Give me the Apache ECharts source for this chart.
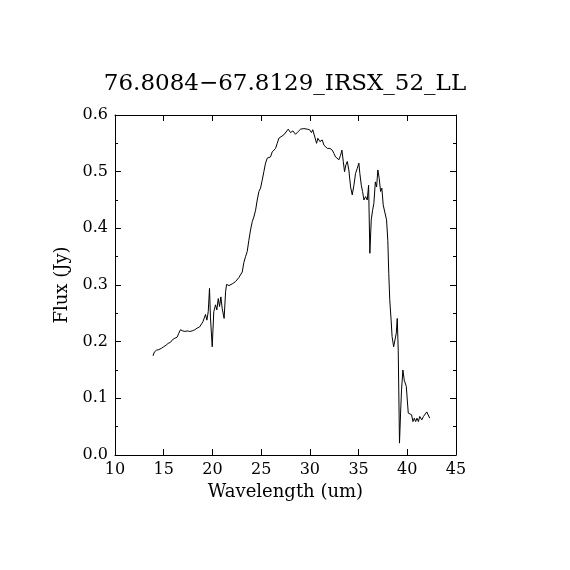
<!DOCTYPE html>
<html>
<head>
<meta charset="utf-8">
<script src="https://cdn.jsdelivr.net/npm/echarts@6/dist/echarts.min.js"></script>
<style>
  html, body { margin: 0; padding: 0; background: #fff; }
  #main { width: 570px; height: 570px; }
</style>
</head>
<body>
<div id="main"></div>
<script>
const titleText = '76.8084\u221267.8129_IRSX_52_LL';

// wavelength (um) and flux (Jy)
const wavelength = [
  13.9, 14.05, 14.26, 14.5, 14.74, 15.0, 15.25, 15.46, 15.7, 15.93,
  16.14, 16.38, 16.55, 16.72, 16.83, 16.96, 17.17, 17.41, 17.65, 17.93,
  18.19, 18.44, 18.68, 18.88, 19.02, 19.16, 19.29, 19.43, 19.57, 19.7,
  19.8, 19.98, 20.14, 20.32, 20.45, 20.6, 20.73, 20.87, 21.0, 21.2,
  21.35, 21.45, 21.7, 22.03, 22.37, 22.71, 23.06, 23.23, 23.4, 23.57,
  23.74, 23.91, 24.09, 24.25, 24.43, 24.6, 24.77, 24.94, 25.11, 25.28,
  25.45, 25.63, 25.79, 25.96, 26.14, 26.3, 26.48, 26.65, 26.82, 26.99,
  27.33, 27.5, 27.78, 28.02, 28.26, 28.53, 28.81, 29.05, 29.38, 29.73,
  29.97, 30.17, 30.3, 30.48, 30.69, 30.82, 31.03, 31.27, 31.44, 31.61,
  31.79, 32.06, 32.3, 32.47, 32.64, 32.82, 32.98, 33.15, 33.29, 33.43,
  33.56, 33.7, 33.84, 34.0, 34.18, 34.35, 34.52, 34.69, 34.87, 35.03,
  35.13, 35.28, 35.41, 35.55, 35.72, 35.89, 36.03, 36.16, 36.3, 36.44,
  36.57, 36.72, 36.85, 36.98, 37.12, 37.26, 37.39, 37.53, 37.67, 37.87,
  38.0, 38.1, 38.2, 38.34, 38.44, 38.6, 38.8, 38.87, 38.97, 39.07,
  39.2, 39.31, 39.41, 39.55, 39.69, 39.9, 40.0, 40.1, 40.27, 40.44,
  40.58, 40.72, 40.86, 41.0, 41.14, 41.28, 41.49, 41.66, 41.83, 42.0,
  42.16, 42.3
];
const flux = [
  0.175, 0.182, 0.185, 0.186, 0.188, 0.191, 0.194, 0.197, 0.199, 0.204,
  0.206, 0.208, 0.215, 0.221, 0.224, 0.219, 0.218, 0.219, 0.218, 0.219,
  0.221, 0.224, 0.226, 0.229, 0.235, 0.232, 0.248, 0.238, 0.253, 0.294,
  0.242, 0.191, 0.253, 0.265, 0.256, 0.276, 0.262, 0.279, 0.259, 0.241,
  0.288, 0.301, 0.299, 0.302, 0.306, 0.313, 0.323, 0.340, 0.350, 0.359,
  0.379, 0.397, 0.412, 0.420, 0.432, 0.450, 0.465, 0.471, 0.485, 0.500,
  0.515, 0.524, 0.521, 0.526, 0.535, 0.538, 0.541, 0.550, 0.559, 0.562,
  0.565, 0.568, 0.575, 0.569, 0.572, 0.566, 0.571, 0.575, 0.576, 0.575,
  0.574, 0.569, 0.574, 0.571, 0.550, 0.559, 0.553, 0.556, 0.547, 0.550,
  0.541, 0.541, 0.538, 0.532, 0.526, 0.524, 0.521, 0.529, 0.538, 0.518,
  0.500, 0.512, 0.518, 0.503, 0.473, 0.459, 0.476, 0.497, 0.506, 0.515,
  0.497, 0.476, 0.465, 0.450, 0.456, 0.450, 0.476, 0.356, 0.415, 0.432,
  0.444, 0.482, 0.473, 0.503, 0.488, 0.465, 0.471, 0.441, 0.438, 0.415,
  0.379, 0.320, 0.274, 0.238, 0.209, 0.191, 0.188, 0.215, 0.241, 0.185,
  0.021, 0.074, 0.115, 0.150, 0.132, 0.121, 0.097, 0.074, 0.076, 0.071,
  0.059, 0.065, 0.059, 0.065, 0.059, 0.068, 0.062, 0.068, 0.071, 0.076,
  0.074, 0.065
];

const points = wavelength.map((w, i) => [w, flux[i]]);

const font = 'DejaVu Serif';
const black = '#000';

function xAxis(pos, labels) {
  return {
    type: 'value', position: pos, min: 10, max: 45, interval: 5,
    name: labels ? 'Wavelength (um)' : '', nameLocation: 'middle', nameGap: 26,
    nameTextStyle: { fontFamily: font, fontSize: 18, color: black },
    axisLine: { show: true, onZero: false, lineStyle: { color: black, width: 1 } },
    axisTick: { show: true, inside: true, length: 6, lineStyle: { color: black } },
    minorTick: { show: false },
    axisLabel: { show: labels, margin: 7, fontFamily: font, fontSize: 16, color: black },
    splitLine: { show: false }
  };
}

function yAxis(pos, labels) {
  return {
    type: 'value', position: pos, min: 0, max: 0.6, interval: 0.1,
    name: labels ? 'Flux (Jy)' : '', nameLocation: 'middle', nameGap: 43, nameRotate: 90,
    nameTextStyle: { fontFamily: font, fontSize: 18, color: black },
    axisLine: { show: true, onZero: false, lineStyle: { color: black, width: 1 } },
    axisTick: { show: true, inside: true, length: 6, lineStyle: { color: black } },
    minorTick: { show: true, splitNumber: 2, length: 3, lineStyle: { color: black } },
    axisLabel: {
      show: labels, margin: 7, fontFamily: font, fontSize: 16, color: black,
      formatter: v => v.toFixed(1)
    },
    splitLine: { show: false }
  };
}

const myChart = echarts.init(document.getElementById('main'));
myChart.setOption({
  backgroundColor: '#fff',
  animation: false,
  title: {
    text: titleText, left: 'center', top: 68,
    textStyle: { fontFamily: font, fontSize: 23, fontWeight: 'normal', color: black }
  },
  grid: { left: 115, right: 114, top: 115, bottom: 115 },
  xAxis: [xAxis('bottom', true), xAxis('top', false)],
  yAxis: [yAxis('left', true), yAxis('right', false)],
  series: [{
    type: 'line',
    data: points,
    showSymbol: false,
    lineStyle: { color: black, width: 1 },
    itemStyle: { color: black }
  }]
});
</script>
</body>
</html>
